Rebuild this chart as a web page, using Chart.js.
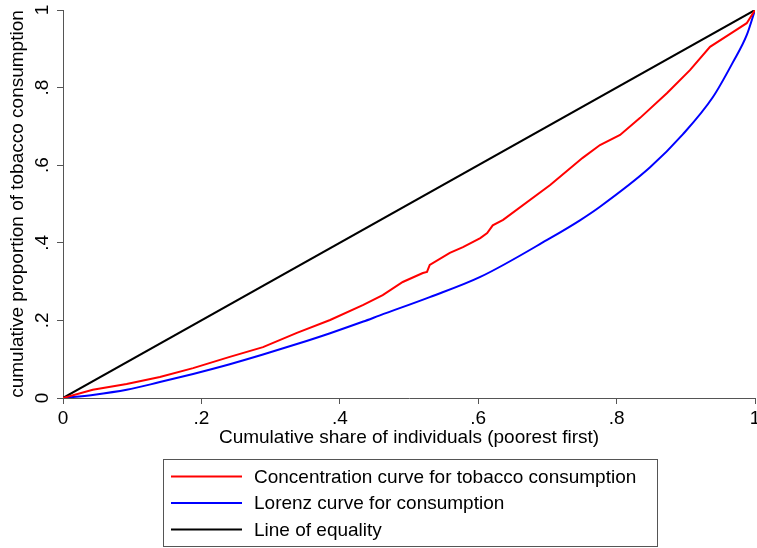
<!DOCTYPE html>
<html lang="en">
<head>
  <meta charset="UTF-8" />
  <title>Concentration curve</title>
  <script src="https://cdn.jsdelivr.net/npm/chart.js"></script>
  <style>
    body { margin: 0; background: #fff; }
    .wrap { width: 757px; height: 548px; position: relative; }
  </style>
</head>
<body>
  <div class="wrap"><canvas id="curve"></canvas></div>

  <script>
    // cumulative share of individuals (x) and cumulative proportion (y)
    const concX = [0, 0.043, 0.092, 0.140, 0.188, 0.241, 0.289, 0.338, 0.386, 0.434, 0.462, 0.491, 0.520, 0.526, 0.530, 0.559, 0.578, 0.603, 0.613, 0.621, 0.636, 0.704, 0.751, 0.776, 0.805, 0.834, 0.873, 0.906, 0.935, 0.968, 0.988, 1];
    const concY = [0, 0.021, 0.036, 0.054, 0.077, 0.106, 0.131, 0.168, 0.201, 0.240, 0.265, 0.299, 0.322, 0.325, 0.343, 0.374, 0.389, 0.412, 0.425, 0.445, 0.459, 0.549, 0.619, 0.652, 0.678, 0.722, 0.786, 0.845, 0.905, 0.943, 0.966, 1];

    const lorenzX = [0, 0.043, 0.092, 0.140, 0.188, 0.241, 0.289, 0.338, 0.386, 0.434, 0.458, 0.530, 0.603, 0.704, 0.747, 0.776, 0.848, 0.896, 0.939, 0.968, 0.988, 1];
    const lorenzY = [0, 0.008, 0.021, 0.041, 0.062, 0.087, 0.112, 0.139, 0.167, 0.197, 0.213, 0.260, 0.312, 0.412, 0.458, 0.493, 0.594, 0.680, 0.775, 0.865, 0.935, 1];

    const equalityX = [0, 1];
    const equalityY = [0, 1];

    const seriesLabels = ["Concentration curve for tobacco consumption", "Lorenz curve for consumption", "Line of equality"];
    const tickValues = [0, 0.2, 0.4, 0.6, 0.8, 1];

    const FONT = "'Liberation Sans', Arial, sans-serif";

    function pts(xs, ys) {
      return xs.map((x, i) => ({ x: x, y: ys[i] }));
    }

    function fmtTick(v) {
      if (Math.abs(v) < 1e-9) return "0";
      if (Math.abs(v - 1) < 1e-9) return "1";
      return v.toFixed(1).replace(/^0/, "");
    }

    // boxed legend under the plot, like Stata
    const boxLegend = {
      id: "boxLegend",
      afterDraw(chart) {
        const ctx = chart.ctx;
        ctx.save();
        ctx.strokeStyle = "#555";
        ctx.lineWidth = 1;
        ctx.strokeRect(163.5, 459.5, 494, 87);
        ctx.font = "19px " + FONT;
        ctx.textBaseline = "middle";
        ctx.fillStyle = "#000";
        chart.data.datasets.forEach((ds, i) => {
          const y = 476.5 + i * 26.5;
          ctx.strokeStyle = ds.borderColor;
          ctx.lineWidth = 2;
          ctx.beginPath();
          ctx.moveTo(171, y);
          ctx.lineTo(242, y);
          ctx.stroke();
          ctx.fillText(ds.label, 254, y + 1);
        });
        ctx.restore();
      }
    };

    new Chart(document.getElementById("curve"), {
      type: "scatter",
      data: {
        datasets: [
          { label: seriesLabels[0], data: pts(concX, concY), borderColor: "#ff0000", borderWidth: 2, showLine: true, pointRadius: 0 },
          { label: seriesLabels[1], data: pts(lorenzX, lorenzY), borderColor: "#0000ff", borderWidth: 2, showLine: true, pointRadius: 0, cubicInterpolationMode: "monotone" },
          { label: seriesLabels[2], data: pts(equalityX, equalityY), borderColor: "#000000", borderWidth: 2, showLine: true, pointRadius: 0 }
        ]
      },
      options: {
        responsive: true,
        maintainAspectRatio: false,
        animation: false,
        layout: { padding: { left: 0, right: 2, top: 10, bottom: 98 } },
        plugins: { legend: { display: false }, tooltip: { enabled: false } },
        scales: {
          x: {
            type: "linear",
            min: 0, max: 1,
            afterBuildTicks: s => { s.ticks = tickValues.map(v => ({ value: v })); },
            afterFit: s => { s.height = 52; s.paddingLeft = 0; s.paddingRight = 0; },
            grid: { drawOnChartArea: false, drawTicks: true, tickLength: 6, color: "#555" },
            border: { display: true, color: "#555", width: 1 },
            ticks: { color: "#000", font: { family: FONT, size: 19 }, padding: 3, callback: v => fmtTick(v), maxRotation: 0, autoSkip: false },
            title: { display: true, text: "Cumulative share of individuals (poorest first)", color: "#000", font: { family: FONT, size: 19, lineHeight: 1.2 }, padding: { top: 0, bottom: 1 } }
          },
          y: {
            type: "linear",
            min: 0, max: 1,
            afterBuildTicks: s => { s.ticks = tickValues.map(v => ({ value: v })); },
            afterFit: s => { s.width = 63; s.paddingTop = 0; s.paddingBottom = 0; },
            grid: { drawOnChartArea: false, drawTicks: true, tickLength: 6, color: "#555" },
            border: { display: true, color: "#555", width: 1 },
            ticks: { color: "#000", font: { family: FONT, size: 19 }, padding: 6, minRotation: 90, maxRotation: 90, crossAlign: "center", callback: v => fmtTick(v), autoSkip: false },
            title: { display: true, text: "cumulative proportion of tobacco consumption", color: "#000", font: { family: FONT, size: 19, lineHeight: 1.2 }, padding: { top: 6, bottom: 0 } }
          }
        }
      },
      plugins: [boxLegend]
    });
  </script>
</body>
</html>
